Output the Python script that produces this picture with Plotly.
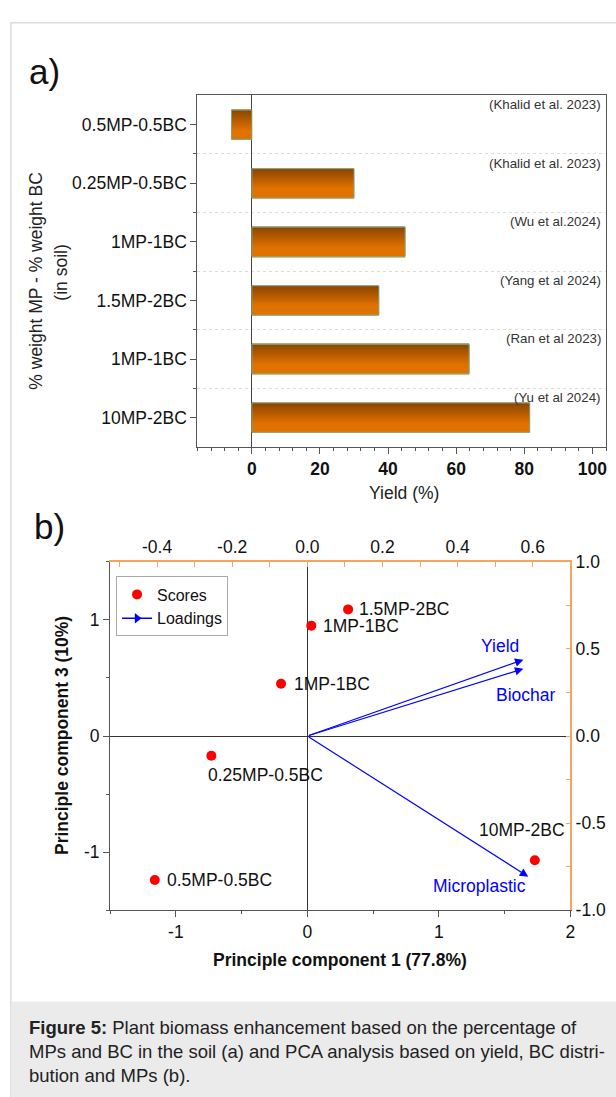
import plotly.graph_objects as go

# ---------------- Panel a data ----------------
categories = ["0.5MP-0.5BC", "0.25MP-0.5BC", "1MP-1BC", "1.5MP-2BC", "1MP-1BC", "10MP-2BC"]
yield_pct = [-6.0, 30.0, 45.0, 37.3, 63.8, 81.6]
references = ["(Khalid et al. 2023)", "(Khalid et al. 2023)", "(Wu et al.2024)",
              "(Yang et al 2024)", "(Ran et al 2023)", "(Yu et al 2024)"]
xa_tickvals = [0, 20, 40, 60, 80, 100]
xa_ticktext = ["0", "20", "40", "60", "80", "100"]

# ---------------- Panel b data ----------------
score_labels = ["1.5MP-2BC", "1MP-1BC", "1MP-1BC", "0.25MP-0.5BC", "0.5MP-0.5BC", "10MP-2BC"]
pc1_scores = [0.31, 0.03, -0.20, -0.73, -1.16, 1.73]
pc3_scores = [1.09, 0.95, 0.45, -0.17, -1.24, -1.07]
loading_labels = ["Yield", "Biochar", "Microplastic"]
pc1_loadings = [0.575, 0.575, 0.588]
pc3_loadings = [0.438, 0.386, -0.807]

xb_tickvals = [-1, 0, 1, 2]
xb_ticktext = ["-1", "0", "1", "2"]
yb_tickvals = [-1, 0, 1]
yb_ticktext = ["-1", "0", "1"]
xt_tickvals = [-0.4, -0.2, 0.0, 0.2, 0.4, 0.6]
xt_ticktext = ["-0.4", "-0.2", "0.0", "0.2", "0.4", "0.6"]
yr_tickvals = [-1.0, -0.5, 0.0, 0.5, 1.0]
yr_ticktext = ["-1.0", "-0.5", "0.0", "0.5", "1.0"]

W, H = 616, 1097
FONT = "Liberation Sans, Arial, Helvetica, sans-serif"
FS = 17.5
ORANGE_AX = "#F7A55A"
AXC = "#555555"


def px(x):
    return x / W


def py(y):
    return 1 - y / H


positions = list(range(len(categories)))

fig = go.Figure()

# ---- gradient bars (strips) ----
N = 30
bar_w = 0.5
step = bar_w / N
dark = (137, 68, 0)
orange = (224, 114, 0)
for k in range(N):
    t = (k + 0.5) / N
    f = min(1.0, t / 0.7)
    c = tuple(int(round(dark[i] + (orange[i] - dark[i]) * f)) for i in range(3))
    off = -bar_w / 2 + k * step
    w = min(step * 2.0, bar_w / 2 - off)
    fig.add_trace(go.Bar(
        x=yield_pct, y=positions, orientation="h",
        width=w, offset=off,
        marker=dict(color="rgb(%d,%d,%d)" % c, line=dict(width=0)),
        xaxis="x", yaxis="y", showlegend=False, hoverinfo="skip"))
# outline
fig.add_trace(go.Bar(
    x=yield_pct, y=positions, orientation="h", width=bar_w,
    marker=dict(color="rgba(0,0,0,0)", line=dict(color="#7FA67F", width=1)),
    xaxis="x", yaxis="y", showlegend=False, hoverinfo="skip"))

# ---- panel b: scores ----
fig.add_trace(go.Scatter(
    x=pc1_scores, y=pc3_scores, mode="markers", name="Scores",
    marker=dict(color="#FF0000", size=10),
    xaxis="x2", yaxis="y2", showlegend=True))
# legend-only loadings trace (on loading axes)
fig.add_trace(go.Scatter(
    x=[None, None], y=[None, None], mode="lines+markers", name="Loadings",
    line=dict(color="#0000FF", width=1.5),
    marker=dict(symbol="triangle-right", size=9, color="#0000FF"),
    xaxis="x3", yaxis="y3", showlegend=True))

annotations = []

# panel a citations
for p, ref in zip(positions, references):
    annotations.append(dict(
        x=0.993, xref="x domain", y=p - 0.345, yref="y", text=ref,
        showarrow=False, xanchor="right", yanchor="middle",
        font=dict(family=FONT, size=13.3, color="#333333")))

# loading arrows
for lx, ly in zip(pc1_loadings, pc3_loadings):
    annotations.append(dict(
        x=lx, y=ly, xref="x3", yref="y3", ax=0, ay=0, axref="x3", ayref="y3",
        showarrow=True, arrowhead=2, arrowsize=1.4, arrowwidth=1.2,
        arrowcolor="#0000FF", text=""))

# loading labels
load_pos = {"Yield": ("right", -2, 14), "Biochar": ("right", 35, -26),
            "Microplastic": ("right", 0, -9)}
for lab, lx, ly in zip(loading_labels, pc1_loadings, pc3_loadings):
    xa, xs, ys = load_pos[lab]
    annotations.append(dict(
        x=lx, y=ly, xref="x3", yref="y3", text=lab, showarrow=False,
        xanchor=xa, yanchor="middle", xshift=xs, yshift=ys,
        font=dict(family=FONT, size=FS, color="#0000FF")))

# score labels
score_pos = [("left", 9, 0), ("left", 10, 0), ("left", 11, 0),
             ("left", -5, -19), ("left", 10, 0), ("right", 32, 30)]
for lab, sx, sy, (xa, xs, ys) in zip(score_labels, pc1_scores, pc3_scores, score_pos):
    annotations.append(dict(
        x=sx, y=sy, xref="x2", yref="y2", text=lab, showarrow=False,
        xanchor=xa, yanchor="middle", xshift=xs, yshift=ys,
        font=dict(family=FONT, size=FS, color="#111111")))

# panel labels & titles
annotations += [
    dict(x=px(27), y=py(63), xref="paper", yref="paper", text="a)", showarrow=False,
         xanchor="left", yanchor="middle", font=dict(family=FONT, size=35, color="#111")),
    dict(x=px(32), y=py(526), xref="paper", yref="paper", text="b)", showarrow=False,
         xanchor="left", yanchor="middle", font=dict(family=FONT, size=35, color="#111")),
    dict(x=px(36), y=py(276), xref="paper", yref="paper", text="% weight MP - % weight BC",
         showarrow=False, textangle=-90, xanchor="center", yanchor="middle",
         font=dict(family=FONT, size=FS, color="#222")),
    dict(x=px(62), y=py(267), xref="paper", yref="paper", text="(in soil)",
         showarrow=False, textangle=-90, xanchor="center", yanchor="middle",
         font=dict(family=FONT, size=FS, color="#222")),
    dict(x=px(407), y=py(492), xref="paper", yref="paper", text="Yield (%)",
         showarrow=False, xanchor="center", yanchor="middle",
         font=dict(family=FONT, size=FS, color="#222")),
    dict(x=px(62), y=py(739), xref="paper", yref="paper", text="<b>Principle component 3 (10%)</b>",
         showarrow=False, textangle=-90, xanchor="center", yanchor="middle",
         font=dict(family=FONT, size=FS, color="#111")),
    dict(x=px(343), y=py(968), xref="paper", yref="paper", text="<b>Principle component 1 (77.8%)</b>",
         showarrow=False, xanchor="center", yanchor="middle",
         font=dict(family=FONT, size=FS, color="#111")),
    dict(x=px(27), y=py(1061), xref="paper", yref="paper",
         text="<b>Figure 5:</b> Plant biomass enhancement based on the percentage of<br>"
              "MPs and BC in the soil (a) and PCA analysis based on yield, BC distri-<br>"
              "bution and MPs (b).",
         showarrow=False, xanchor="left", yanchor="middle", align="left",
         font=dict(family=FONT, size=18.5, color="#222")),
]

shapes = [
    dict(type="rect", xref="paper", yref="paper", x0=px(11), x1=1.02, y0=-0.02, y1=py(13),
         line=dict(color="#dcdcdc", width=1.5), fillcolor="rgba(0,0,0,0)", layer="below"),
    dict(type="rect", xref="paper", yref="paper", x0=px(11.8), x1=1.02, y0=-0.02, y1=py(1010),
         line=dict(width=0), fillcolor="#ebebeb", layer="below"),
]

tickfont = dict(family=FONT, size=FS, color="#111")

fig.update_layout(
    width=W, height=H, margin=dict(l=0, r=0, t=0, b=0),
    paper_bgcolor="white", plot_bgcolor="white",
    barmode="overlay", font=dict(family=FONT, size=FS, color="#111"),
    showlegend=True,
    legend=dict(x=px(117), y=py(577), xanchor="left", yanchor="top",
                bordercolor="#aaaaaa", borderwidth=1, bgcolor="white",
                font=dict(family=FONT, size=16, color="#111"),
                itemwidth=30, tracegroupgap=0),
    annotations=annotations, shapes=shapes,
    xaxis=dict(domain=[px(199), px(611)], anchor="y", range=[-16, 104],
               tickvals=xa_tickvals, ticktext=xa_ticktext,
               tickfont=dict(family=FONT, size=FS, color="#111", weight="bold"),
               ticks="outside", ticklen=6, tickcolor=AXC,
               minor=dict(dtick=4, tick0=0, ticks="outside", ticklen=3, tickcolor=AXC),
               showline=True, linecolor=AXC, mirror=True, showgrid=False,
               zeroline=True, zerolinecolor="#444", zerolinewidth=1),
    yaxis=dict(domain=[py(445), py(87)], anchor="x", range=[5.5, -0.5],
               tickvals=positions, ticktext=categories, tickfont=tickfont,
               ticks="outside", ticklen=6, tickcolor=AXC,
               minor=dict(tickvals=[0.5, 1.5, 2.5, 3.5, 4.5], ticks="outside", ticklen=3,
                          tickcolor=AXC, showgrid=True, gridcolor="#dddddd",
                          griddash="dot", gridwidth=1),
               showline=True, linecolor=AXC, mirror=True, showgrid=False, zeroline=False),
    xaxis2=dict(domain=[px(111), px(575)], anchor="y2", range=[-1.5, 2],
                tickvals=xb_tickvals, ticktext=xb_ticktext, tickfont=tickfont,
                ticks="outside", ticklen=6, tickcolor=AXC,
                minor=dict(dtick=0.5, tick0=0, ticks="outside", ticklen=3, tickcolor=AXC),
                showline=True, linecolor=AXC, showgrid=False,
                zeroline=True, zerolinecolor="#333", zerolinewidth=1),
    yaxis2=dict(domain=[py(917), py(562)], anchor="x2", range=[-1.5, 1.5],
                tickvals=yb_tickvals, ticktext=yb_ticktext, tickfont=tickfont,
                ticks="outside", ticklen=6, tickcolor=AXC,
                minor=dict(dtick=0.5, tick0=0, ticks="outside", ticklen=3, tickcolor=AXC),
                showline=True, linecolor=AXC, showgrid=False,
                zeroline=True, zerolinecolor="#333", zerolinewidth=1),
    xaxis3=dict(overlaying="x2", side="top", anchor="y2", range=[-0.525, 0.7],
                tickvals=xt_tickvals, ticktext=xt_ticktext, tickfont=tickfont,
                ticks="inside", ticklen=5, tickcolor=ORANGE_AX,
                minor=dict(dtick=0.1, tick0=0, ticks="inside", ticklen=5, tickcolor=ORANGE_AX),
                showline=True, linecolor=ORANGE_AX, linewidth=1.5, showgrid=False, zeroline=False),
    yaxis3=dict(overlaying="y2", side="right", anchor="x2", range=[-1, 1],
                tickvals=yr_tickvals, ticktext=yr_ticktext, tickfont=tickfont,
                ticks="inside", ticklen=5, tickcolor=ORANGE_AX,
                minor=dict(dtick=0.25, tick0=0, ticks="inside", ticklen=5, tickcolor=ORANGE_AX),
                showline=True, linecolor=ORANGE_AX, linewidth=1.5, showgrid=False, zeroline=False),
)

fig.write_html(
    "out.html",
    config={"displayModeBar": False},
    post_script="document.body.style.margin='0';document.body.style.padding='0';"
                "document.documentElement.style.overflow='hidden';",
)
